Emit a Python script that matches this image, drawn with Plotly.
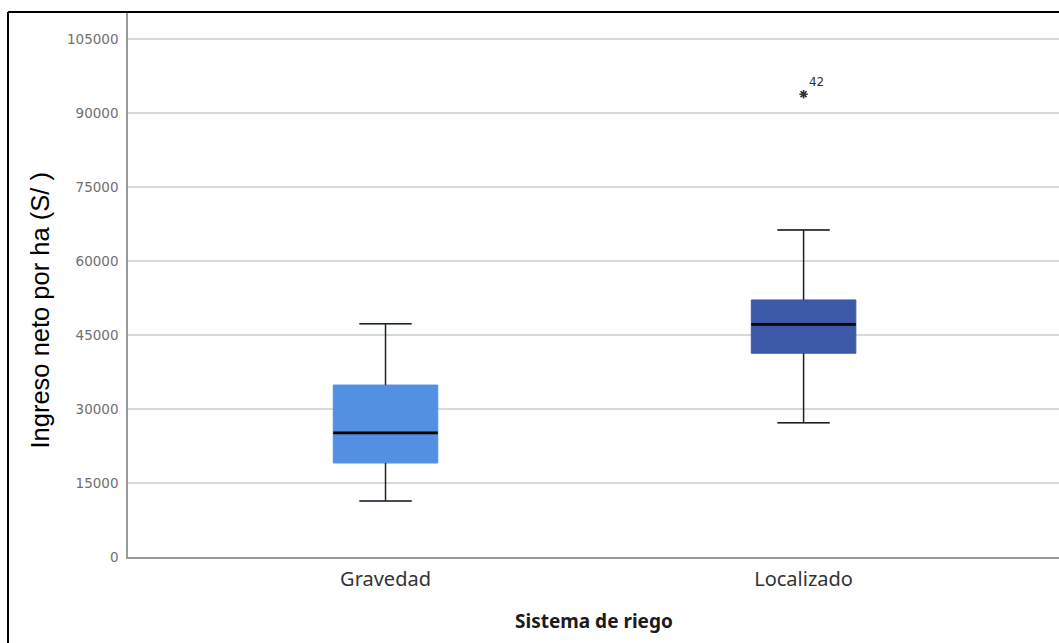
import plotly.graph_objects as go

# Summary statistics of net income per hectare by irrigation system
categories = ["Gravedad", "Localizado"]
lower_whisker = [11350, 27200]
q1 = [19050, 41300]
median = [25150, 47150]
q3 = [34850, 52100]
upper_whisker = [47250, 66300]
outlier_values = [93800]
outlier_group = [1]
outlier_labels = ["42"]
y_ticks = [0, 15000, 30000, 45000, 60000, 75000, 90000, 105000]

box_colors = ["#5291E2", "#3C5AA8"]
BOX_W = 0.25
CAP_W = BOX_W / 2
LINE_DARK = "#222222"

fig = go.Figure()

for i, name in enumerate(categories):
    fig.add_trace(go.Box(
        x=[i], q1=[q1[i]], median=[median[i]], q3=[q3[i]],
        lowerfence=[lower_whisker[i]], upperfence=[upper_whisker[i]],
        width=BOX_W, whiskerwidth=0.5,
        fillcolor=box_colors[i],
        line=dict(color=box_colors[i], width=1),
        boxpoints=False, hoverinfo="skip", showlegend=False, name=name,
    ))
    # whiskers and caps in dark ink
    wx = [i, i, None, i, i, None,
          i - CAP_W / 2, i + CAP_W / 2, None,
          i - CAP_W / 2, i + CAP_W / 2]
    wy = [q3[i], upper_whisker[i], None, q1[i], lower_whisker[i], None,
          upper_whisker[i], upper_whisker[i], None,
          lower_whisker[i], lower_whisker[i]]
    fig.add_trace(go.Scatter(
        x=wx, y=wy, mode="lines", line=dict(color=LINE_DARK, width=1.5),
        hoverinfo="skip", showlegend=False,
    ))
    # median line
    fig.add_trace(go.Scatter(
        x=[i - BOX_W / 2, i + BOX_W / 2], y=[median[i], median[i]],
        mode="lines", line=dict(color="#000000", width=2.6),
        hoverinfo="skip", showlegend=False,
    ))

# extreme value
fig.add_trace(go.Scatter(
    x=outlier_group, y=outlier_values, mode="markers+text",
    marker=dict(symbol="asterisk-open", size=7, color="#333333",
                line=dict(color="#333333", width=1.6)),
    text=outlier_labels, textposition="top right",
    textfont=dict(family="DejaVu Sans", size=12, color="#333333"),
    hoverinfo="skip", showlegend=False,
))

FRAME_X = (8 - 128) / 931
PAPER_BOTTOM = -86 / 545

fig.update_layout(
    width=1059, height=643,
    margin=dict(l=128, r=0, t=12, b=86),
    paper_bgcolor="white", plot_bgcolor="white",
    showlegend=False,
    xaxis=dict(
        range=[-0.616, 1.611],
        tickmode="array", tickvals=list(range(len(categories))),
        ticktext=categories,
        tickfont=dict(family="Noto Sans", size=20, color="#333333"),
        showgrid=False, zeroline=False,
        showline=True, linecolor="#9a9a9a", linewidth=1.5,
        ticks="", ticklabelstandoff=3,
    ),
    yaxis=dict(
        range=[0, 110460],
        tickmode="array", tickvals=y_ticks,
        ticktext=[str(v) for v in y_ticks],
        tickfont=dict(family="DejaVu Sans", size=13.5, color="#707070"),
        showgrid=True, gridcolor="#d9d9d9", gridwidth=1.6,
        zeroline=False,
        showline=True, linecolor="#9a9a9a", linewidth=1.5,
        ticks="", ticklabelstandoff=5,
    ),
    shapes=[
        # outer frame: left and top edges
        dict(type="line", xref="paper", yref="paper",
             x0=FRAME_X, x1=FRAME_X, y0=PAPER_BOTTOM, y1=1.0,
             line=dict(color="#000000", width=2), layer="above"),
        dict(type="line", xref="paper", yref="paper",
             x0=FRAME_X, x1=1.0, y0=1.0, y1=1.0,
             line=dict(color="#000000", width=2), layer="above"),
    ],
    annotations=[
        dict(text="Ingreso neto por ha (S/ )", textangle=-90,
             xref="paper", yref="paper",
             x=(39.5 - 128) / 931, y=(557 - 311) / 545,
             xanchor="center", yanchor="middle", showarrow=False,
             font=dict(family="Liberation Sans", size=25.5, color="#000000")),
        dict(text="<b>Sistema de riego</b>",
             xref="paper", yref="paper",
             x=0.5, y=(557 - 621) / 545,
             xanchor="center", yanchor="middle", showarrow=False,
             font=dict(family="Noto Sans", size=19, color="#1a1a1a")),
    ],
)

fig.write_html("out.html")
